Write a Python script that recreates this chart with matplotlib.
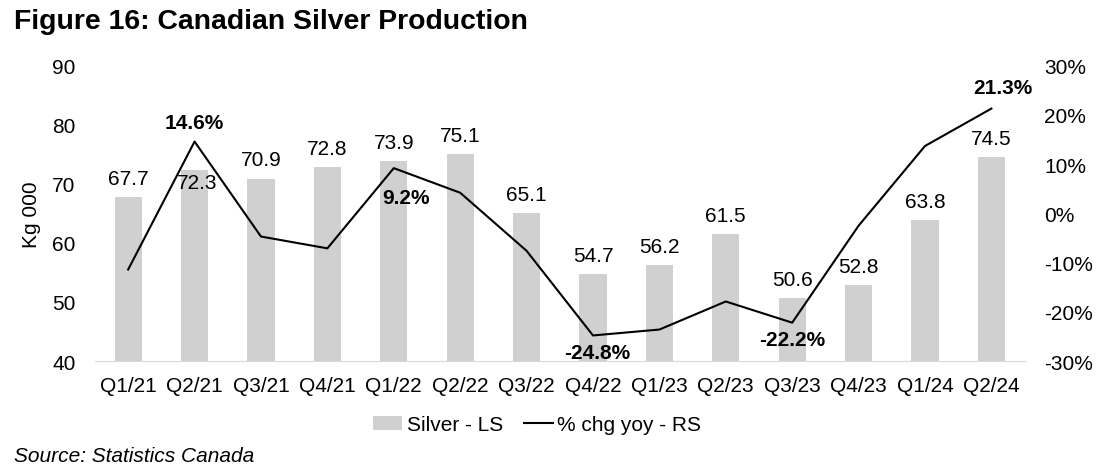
import numpy as np
import matplotlib.pyplot as plt
from matplotlib.ticker import FuncFormatter

plt.rcParams['font.family'] = ['Liberation Sans', 'DejaVu Sans']

# --- 数据 ---
quarters = ['Q1/21', 'Q2/21', 'Q3/21', 'Q4/21', 'Q1/22', 'Q2/22', 'Q3/22',
            'Q4/22', 'Q1/23', 'Q2/23', 'Q3/23', 'Q4/23', 'Q1/24', 'Q2/24']
silver = [67.7, 72.3, 70.9, 72.8, 73.9, 75.1, 65.1,
          54.7, 56.2, 61.5, 50.6, 52.8, 63.8, 74.5]
chg_yoy = [-11.4, 14.6, -4.7, -7.1, 9.2, 4.2, -7.6,
           -24.8, -23.6, -17.9, -22.2, -2.5, 13.7, 21.3]
# 标注的百分比点: 索引 -> (x偏移, y偏移) 单位 pt
pct_labels = {1: (0, 14), 4: (9, -21), 7: (3, -12), 10: (0, -12), 13: (8, 15)}

BAR_COLOR = '#d0d0d0'
FS = 15

fig = plt.figure(figsize=(11.12, 4.77), dpi=100)
ax = fig.add_axes([0.0854, 0.241, 0.836, 0.619])
ax2 = ax.twinx()

x = np.arange(len(quarters))
ax.bar(x, silver, width=0.41, color=BAR_COLOR, label='Silver - LS', zorder=2)
ax2.plot(x, chg_yoy, color='black', lw=1.5, label='% chg yoy - RS', zorder=3)

ax.set_xlim(-0.5, len(quarters) - 0.5)
ax.set_ylim(40, 90)
ax.set_yticks(range(40, 91, 10))
ax2.set_ylim(-30, 30)
ax2.set_yticks(range(-30, 31, 10))
ax2.yaxis.set_major_formatter(FuncFormatter(lambda v, p: f'{v:.0f}%'))

ax.set_xticks(x)
ax.set_xticklabels(quarters)
ax.set_ylabel('Kg 000', fontsize=FS, labelpad=8)

for a in (ax, ax2):
    for s in ('top', 'left', 'right'):
        a.spines[s].set_visible(False)
    a.tick_params(length=0, labelsize=FS)
ax2.spines['bottom'].set_visible(False)
ax.spines['bottom'].set_color('#d9d9d9')
ax.tick_params(axis='x', pad=11)
ax.tick_params(axis='y', pad=14)
ax2.tick_params(axis='y', pad=14)

# 柱状图数值标签
for i, v in enumerate(silver):
    if i == 1:
        # 这个标签原图放在柱顶下方，避开折线
        ax.annotate(f'{v:.1f}', (i, v), xytext=(2, -9), textcoords='offset points',
                    ha='center', va='center', fontsize=FS)
    else:
        ax.annotate(f'{v:.1f}', (i, v), xytext=(0, 13.5), textcoords='offset points',
                    ha='center', va='center', fontsize=FS)

# 折线关键点标签
for i, (dx, dy) in pct_labels.items():
    ax2.annotate(f'{chg_yoy[i]:.1f}%', (i, chg_yoy[i]), xytext=(dx, dy),
                 textcoords='offset points', ha='center', va='center',
                 fontsize=FS, fontweight='bold')

h1, l1 = ax.get_legend_handles_labels()
h2, l2 = ax2.get_legend_handles_labels()
fig.legend(h1 + h2, l1 + l2, loc='center', bbox_to_anchor=(0.483, 0.107),
           ncol=2, frameon=False, fontsize=FS, handlelength=1.4,
           handletextpad=0.2, columnspacing=1.0)

fig.text(0.013, 0.953, 'Figure 16: Canadian Silver Production', fontsize=20.4,
         fontweight='bold', va='center', ha='left')
fig.text(0.013, 0.043, 'Source: Statistics Canada', fontsize=FS,
         style='italic', va='center', ha='left')

plt.savefig('out.png', dpi=100)
